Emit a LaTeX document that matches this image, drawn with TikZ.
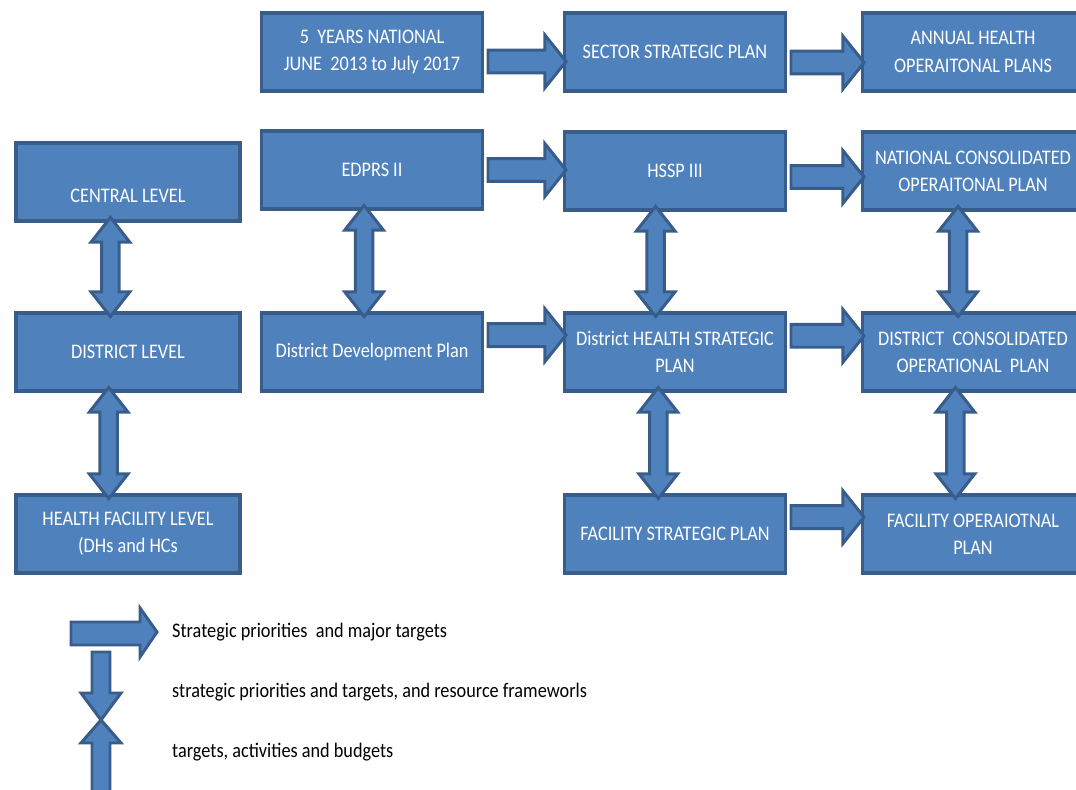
\documentclass[tikz,border=0pt]{standalone}
\usepackage{fontspec}
\setmainfont{Carlito}[FakeStretch=0.88]
\usetikzlibrary{calc}
\definecolor{PlanFill}{HTML}{4F81BD}
\definecolor{PlanLine}{HTML}{385D8A}

\begin{document}
\begin{tikzpicture}[x=0.02cm, y=-0.02cm,
    every node/.style={font=\fontsize{11.8}{15.5}\selectfont},
    plan/.style={draw=PlanLine, fill=PlanFill, line width=2pt, text=white,
                 minimum width=4.43cm, minimum height=1.56cm, align=center,
                 inner sep=1pt},
    blk/.style={draw=PlanLine, fill=PlanFill, line width=1.7pt, line join=miter},
    fwd/.style={to path={let \p1=(\tikztostart), \p2=(\tikztotarget),
        \p3=({\x1+2pt},{\y1+#1}), \p4=({\x2+2pt},\y3) in
        (\x3,\y3+6.5pt) -- (\x4-12pt,\y3+6.5pt) -- (\x4-12pt,\y3+15pt) -- (\p4)
        -- (\x4-12pt,\y3-15pt) -- (\x4-12pt,\y3-6.5pt) -- (\x3,\y3-6.5pt) -- cycle}},
    fwd/.default=0pt,
    both/.style={to path={let \p1=(\tikztostart), \p2=(\tikztotarget),
        \p3=({\x1+#1},{\y1+3pt}), \p4=(\x3,{\y2-3pt}) in
        (\p3) -- (\x3+11pt,\y3-14pt) -- (\x3+5pt,\y3-14pt) -- (\x3+5pt,\y4+14pt)
        -- (\x3+11pt,\y4+14pt) -- (\p4) -- (\x3-11pt,\y4+14pt) -- (\x3-5pt,\y4+14pt)
        -- (\x3-5pt,\y3-14pt) -- (\x3-11pt,\y3-14pt) -- cycle}},
    both/.default=0pt]
  \useasboundingbox (0,0) rectangle (1076,790);
  \clip (0,0) rectangle (1076,790);

  % levels
  \node[plan, minimum width=4.49cm, text height=23pt, text depth=0pt]
    (central) at (128,182) {CENTRAL LEVEL};
  \node[plan, minimum width=4.49cm] (district) at (128,352) {DISTRICT LEVEL};
  \node[plan, minimum width=4.49cm] (facility) at (128,534) {HEALTH FACILITY LEVEL\\(DHs and HCs};

  % plans
  \node[plan] (national) at (372,52)  {5\ \ YEARS NATIONAL\\JUNE\ \ 2013 to July 2017};
  \node[plan] (sector)   at (675,52)  {SECTOR STRATEGIC PLAN};
  \node[plan] (annual)   at (973,52)  {ANNUAL HEALTH\\OPERAITONAL PLANS};
  \node[plan] (edprs)    at (372,170) {EDPRS II};
  \node[plan] (hssp)     at (675,171) {HSSP III};
  \node[plan] (natcons)  at (973,171) {NATIONAL CONSOLIDATED\\OPERAITONAL PLAN};
  \node[plan] (ddp)      at (372,352) {District Development Plan};
  \node[plan] (dhsp)     at (675,352) {District HEALTH STRATEGIC\\PLAN};
  \node[plan] (dcop)     at (973,352) {DISTRICT\ \ CONSOLIDATED\\OPERATIONAL\ \ PLAN};
  \node[plan] (fsp)      at (675,534) {FACILITY STRATEGIC PLAN};
  \node[plan] (fop)      at (973,534) {FACILITY OPERAIOTNAL\\PLAN};

  % block arrows
  \draw[blk] (national.east) to[fwd=-5.4pt] (sector.west);
  \draw[blk] (sector.east)   to[fwd=-6pt]   (annual.west);
  \draw[blk] (edprs.east)    to[fwd]        (hssp.west);
  \draw[blk] (hssp.east)     to[fwd=-3.4pt] (natcons.west);
  \draw[blk] (ddp.east)      to[fwd=9.6pt]  (dhsp.west);
  \draw[blk] (dhsp.east)     to[fwd=9.2pt]  (dcop.west);
  \draw[blk] (fsp.east)      to[fwd=9.6pt]  (fop.west);

  \draw[blk] (central.south)  to[both=-10pt]  (district.north);
  \draw[blk] (district.south) to[both=-11pt]  (facility.north);
  \draw[blk] (edprs.south)    to[both=-4.5pt] (ddp.north);
  \draw[blk] (hssp.south)     to[both=-11pt]  (dhsp.north);
  \draw[blk] (dhsp.south)     to[both=-9.5pt] (fsp.north);
  \draw[blk] (natcons.south)  to[both=-8.5pt] (dcop.north);
  \draw[blk] (dcop.south)     to[both=-10pt]  (fop.north);

  % legend
  \draw[blk] (71,622) -- (140,622) -- (140,608) -- (157,632) -- (140,657)
    -- (140,645) -- (71,645) -- cycle;
  \draw[blk] (92,652) -- (110,652) -- (110,693) -- (121,693) -- (101,720)
    -- (81,693) -- (92,693) -- cycle;
  \draw[blk] (101,720) -- (121,743) -- (110,743) -- (110,800) -- (92,800)
    -- (92,743) -- (81,743) -- cycle;
  \node[anchor=west] (legfwd)  at (166,632) {Strategic priorities\ \ and major targets};
  \node[anchor=west] (legdown) at (166,692) {strategic priorities and targets, and resource frameworls};
  \node[anchor=west] (legup)   at (166,752) {targets, activities and budgets};
\end{tikzpicture}
\end{document}
